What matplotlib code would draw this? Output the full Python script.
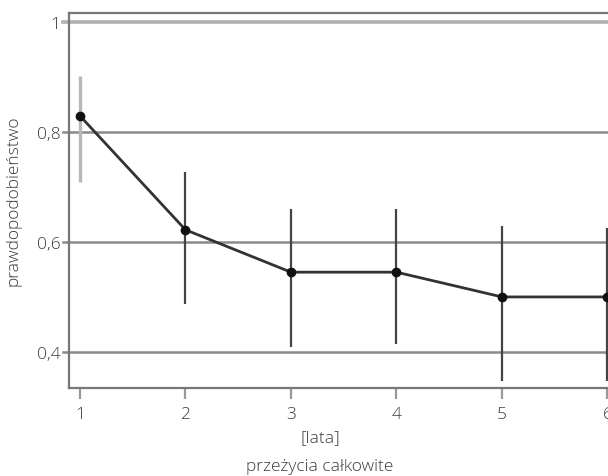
import matplotlib.pyplot as plt

years = [1, 2, 3, 4, 5, 6]
prob = [0.829, 0.622, 0.545, 0.545, 0.500, 0.500]
ci_low = [0.709, 0.487, 0.409, 0.415, 0.347, 0.347]
ci_high = [0.902, 0.727, 0.660, 0.660, 0.629, 0.625]
bar_colors = ['#b8b8b8', '#444444', '#444444', '#444444', '#444444', '#444444']

y_ticks = [0.4, 0.6, 0.8, 1.0]
y_tick_labels = ['0,4', '0,6', '0,8', '1']

plt.rcParams['font.family'] = ['Open Sans', 'DejaVu Sans']
plt.rcParams['font.weight'] = 'light'
TXT = '#3a3a3a'
FS = 12.5

fig = plt.figure(figsize=(6.08, 4.77), dpi=100)
ax = fig.add_axes([69 / 608, 1 - 389 / 477, 1 - 69 / 608, (389 - 14) / 477])

# gridlines (1 is lighter)
for t in y_ticks:
    c = '#b0b0b0' if t == 1.0 else '#8a8a8a'
    lw = 2.6 if t == 1.0 else 1.8
    ax.axhline(t, color=c, lw=lw, zorder=1, xmin=-0.012, clip_on=False)

# confidence intervals
for x, lo, hi, c in zip(years, ci_low, ci_high, bar_colors):
    ax.vlines(x, lo, hi, color=c, lw=1.6 if c != '#b8b8b8' else 2.4, zorder=2)

ax.plot(years, prob, color='#333333', lw=2, marker='o', ms=6,
        mfc='#111111', mec='#111111', zorder=3)

ax.set_xlim(0.896, 6.005)
ax.set_ylim(0.3345, 1.016)
ax.set_xticks(years)
ax.set_yticks(y_ticks)
ax.set_yticklabels(y_tick_labels)

for s in ['left', 'top', 'bottom']:
    ax.spines[s].set_color('#777777')
    ax.spines[s].set_linewidth(1.6)
ax.spines['right'].set_visible(False)

ax.tick_params(axis='x', direction='out', length=8, width=1.6, color='#999999',
               labelsize=FS, labelcolor=TXT, pad=5)
ax.tick_params(axis='y', length=0, labelsize=FS, labelcolor=TXT, pad=6)

fig.text(14 / 608, 1 - 201 / 477, 'prawdopodobieństwo', rotation=90,
         ha='center', va='center', fontsize=FS, color=TXT)
fig.text(320 / 608, 1 - 438 / 477, '[lata]', ha='center', va='center',
         fontsize=FS, color=TXT)
fig.text(320 / 608, 1 - 467 / 477, 'przeżycia całkowite', ha='center',
         va='center', fontsize=FS, color=TXT)

fig.savefig('out.png', dpi=100)
